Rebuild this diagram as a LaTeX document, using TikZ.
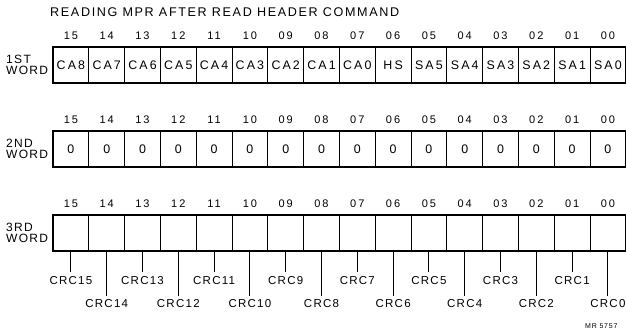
\documentclass[tikz,border=0pt]{standalone}
\usepackage{fontspec}
\setmainfont{Liberation Sans}
\newfontfamily\titlefont[LetterSpace=13]{Liberation Sans}
\newfontfamily\cellfont[LetterSpace=17]{Liberation Sans}
\newfontfamily\numfont[LetterSpace=18]{Liberation Sans}
\newfontfamily\lblfont[LetterSpace=11]{Liberation Sans}
\begin{document}
\begin{tikzpicture}[x=1pt,y=-1pt,
  cellbox/.style={draw=black,line width=0.9pt,minimum width=35.8pt,minimum height=36pt,
    inner sep=0pt,outer sep=0pt,font=\cellfont\fontsize{12.4}{14}\selectfont,text height=8.8pt,text depth=0pt},
  bitnum/.style={inner sep=0pt,font=\numfont\fontsize{11}{13}\selectfont,text height=7.9pt,text depth=0pt},
  wordlbl/.style={anchor=west,inner sep=0pt,align=left,font=\lblfont\fontsize{12}{13}\selectfont},
  crclbl/.style={inner sep=3.6pt,font=\lblfont\fontsize{11.5}{13}\selectfont,text height=8.3pt,text depth=0pt},
  outerbox/.style={draw=black,line width=1.6pt},
  leader/.style={draw=black,line width=0.9pt}]
\useasboundingbox (0,0) rectangle (626,331);
\node[anchor=west,inner sep=0pt,font=\titlefont\fontsize{12.6}{14}\selectfont,text height=9pt,text depth=0pt] (title) at (50,12.5) {READING MPR AFTER READ HEADER COMMAND};
% row 1
\foreach \b/\t [count=\i from 0] in {15/CA8,14/CA7,13/CA6,12/CA5,11/CA4,10/CA3,09/CA2,08/CA1,07/CA0,06/HS,05/SA5,04/SA4,03/SA3,02/SA2,01/SA1,00/SA0}{
  \node[cellbox] (ra\b) at ({53+17.9+\i*35.8},65) {\t};
  \node[bitnum] (na\b) at ({53+17.9+\i*35.8},36) {\b};
}
\draw[outerbox] (ra15.north west) rectangle (ra00.south east);
\node[wordlbl] (wa) at (6,65) {1ST\\[-1.5pt]WORD};
% row 2
\foreach \b [count=\i from 0] in {15,14,13,12,11,10,09,08,07,06,05,04,03,02,01,00}{
  \node[cellbox] (rb\b) at ({53+17.9+\i*35.8},149) {0};
  \node[bitnum] (nb\b) at ({53+17.9+\i*35.8},120) {\b};
}
\draw[outerbox] (rb15.north west) rectangle (rb00.south east);
\node[wordlbl] (wb) at (6,149) {2ND\\[-1.5pt]WORD};
% row 3
\foreach \b/\c [count=\i from 0] in {15/15,14/14,13/13,12/12,11/11,10/10,09/9,08/8,07/7,06/6,05/5,04/4,03/3,02/2,01/1,00/0}{
  \node[cellbox] (rc\b) at ({53+17.9+\i*35.8},233) {};
  \node[bitnum] (nc\b) at ({53+17.9+\i*35.8},204) {\b};
  \pgfmathsetmacro{\ly}{isodd(\c) ? 280 : 303.5}
  \node[crclbl] (crc\c) at ({53+17.9+\i*35.8},\ly) {CRC\c};
  \draw[leader] (rc\b.south) -- (crc\c.north);
}
\draw[outerbox] (rc15.north west) rectangle (rc00.south east);
\node[wordlbl] (wc) at (6,233) {3RD\\[-1.5pt]WORD};
\node[anchor=west,inner sep=0pt,font=\lblfont\fontsize{7}{8}\selectfont] (mr) at (585,326) {MR 5757};
\end{tikzpicture}
\end{document}
